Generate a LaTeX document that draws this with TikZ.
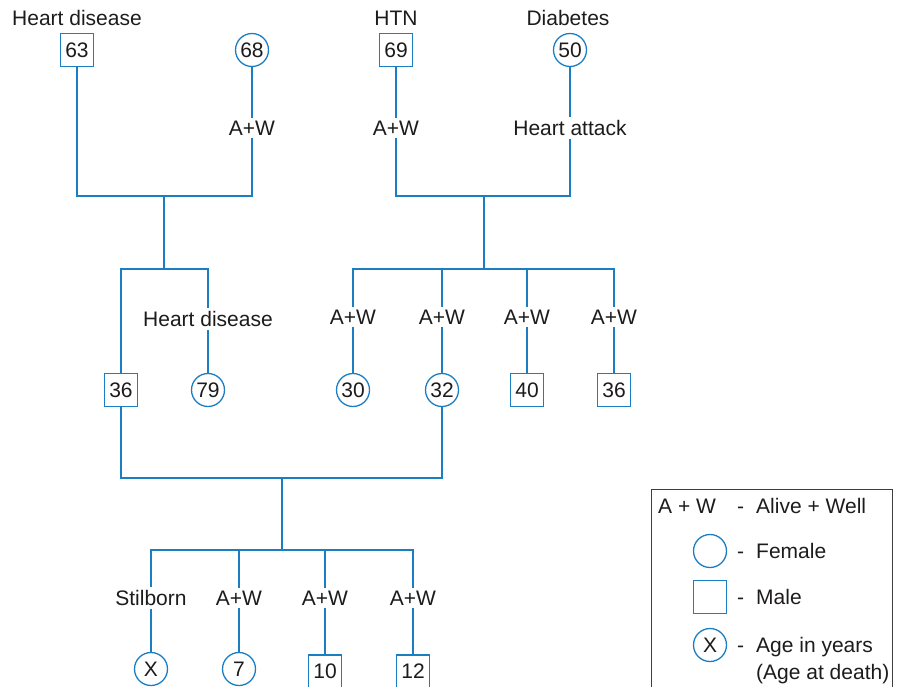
\documentclass[tikz,border=0pt]{standalone}
\usepackage{fontspec}
\setmainfont{Liberation Sans}
\usetikzlibrary{backgrounds}
\definecolor{pblue}{RGB}{27,126,194}
\definecolor{ptext}{RGB}{30,27,28}
\begin{document}
\begin{tikzpicture}[x=1pt,y=-1pt,
  every node/.style={font=\fontsize{21}{25}\selectfont, text=ptext},
  male/.style={draw=pblue, line width=1.3pt, rectangle, minimum size=33pt, inner sep=0pt, fill=white},
  female/.style={draw=pblue, line width=1.3pt, circle, minimum size=33pt, inner sep=0pt, fill=white},
  lbl/.style={fill=white, inner sep=3pt},
  link/.style={draw=pblue, line width=1.4pt},
  legline/.style={draw=ptext!85, line width=1pt},
  legtxt/.style={anchor=base west, inner sep=0pt}]
\useasboundingbox (0,0) rectangle (897,686);
\clip (0,0) rectangle (897,686);
% generation I
\node[male] (m63) at (77,50) {63};
\node[female] (f68) at (252,50) {68};
\node[male] (m69) at (396,50) {69};
\node[female] (f50) at (570,50) {50};
\node (t63) at (77,18) {Heart disease};
\node (t69) at (396,18) {HTN};
\node (t50) at (568,18) {Diabetes};
\node[lbl] (l68) at (252,128) {A+W};
\node[lbl] (l69) at (396,128) {A+W};
\node[lbl] (l50) at (570,128) {Heart attack};
\coordinate (c1) at (164,196);
\coordinate (c2) at (484,196);
\coordinate (s1) at (164,269);
\coordinate (s2) at (484,269);
% generation II
\node[male] (m36) at (121,390) {36};
\node[female] (f79) at (208,390) {79};
\node[female] (f30) at (353,390) {30};
\node[female] (f32) at (442,390) {32};
\node[male] (m40) at (527,390) {40};
\node[male] (m36b) at (614,390) {36};
\node[lbl] (l79) at (208,319) {Heart disease};
\node[lbl] (l30) at (353,317) {A+W};
\node[lbl] (l32) at (442,317) {A+W};
\node[lbl] (l40) at (527,317) {A+W};
\node[lbl] (l36b) at (614,317) {A+W};
\coordinate (c3) at (282,478);
\coordinate (s3) at (282,550);
% generation III
\node[female] (fx) at (151,669) {X};
\node[female] (f7) at (239,669) {7};
\node[male] (m10) at (325,671.5) {10};
\node[male] (m12) at (413,671.5) {12};
\node[lbl] (lx) at (151,598) {Stilborn};
\node[lbl] (l7) at (239,598) {A+W};
\node[lbl] (l10) at (325,598) {A+W};
\node[lbl] (l12) at (413,598) {A+W};
\begin{pgfonlayer}{background}
\draw[link] (m63.south) |- (c1) -| (f68.south);
\draw[link] (m69.south) |- (c2) -| (f50.south);
\draw[link] (c1) -- (s1);
\draw[link] (c2) -- (s2);
\draw[link] (m36.north) |- (s1) -| (f79.north);
\draw[link] (f30.north) |- (s2) -| (m36b.north);
\draw[link] (f32.north) -- (f32.north |- s2);
\draw[link] (m40.north) -- (m40.north |- s2);
\draw[link] (m36.south) |- (c3) -| (f32.south);
\draw[link] (c3) -- (s3);
\draw[link] (fx.north) |- (s3) -| (m12.north);
\draw[link] (f7.north) -- (f7.north |- s3);
\draw[link] (m10.north) -- (m10.north |- s3);
\end{pgfonlayer}
% legend
\draw[legline] (651,720) -- (651,489) -- (892,489) -- (892,720);
\node[legtxt] (lg1) at (658,513) {A + W};
\node[legtxt] (d1) at (737,513) {-};
\node[legtxt] (lg1t) at (756,513) {Alive + Well};
\node[female] (lgf) at (710,551) {};
\node[legtxt] (d2) at (737,558.5) {-};
\node[legtxt] (lgft) at (756,558.5) {Female};
\node[male] (lgm) at (710,597) {};
\node[legtxt] (d3) at (737,604) {-};
\node[legtxt] (lgmt) at (756,604) {Male};
\node[female] (lgx) at (710,645) {X};
\node[legtxt] (d4) at (737,652) {-};
\node[legtxt] (lgxt) at (756,652) {Age in years};
\node[legtxt] (lgxt2) at (756,679) {(Age at death)};
\end{tikzpicture}
\end{document}
